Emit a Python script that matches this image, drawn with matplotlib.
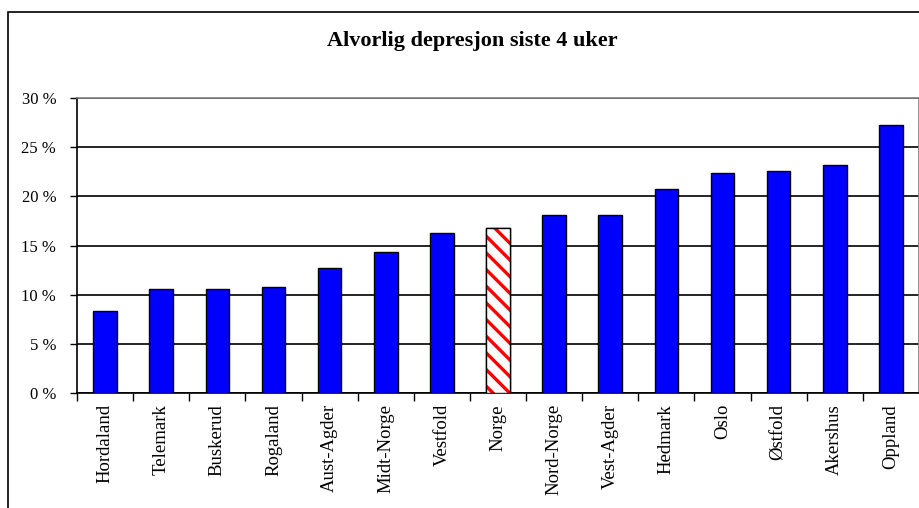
import matplotlib.pyplot as plt
from matplotlib.patches import Rectangle

# Share with severe depression last 4 weeks, by region (%)
regions = ['Hordaland', 'Telemark', 'Buskerud', 'Rogaland', 'Aust-Agder',
           'Midt-Norge', 'Vestfold', 'Norge', 'Nord-Norge', 'Vest-Agder',
           'Hedmark', 'Oslo', 'Østfold', 'Akershus', 'Oppland']
values = [8.3, 10.6, 10.6, 10.8, 12.7, 14.3, 16.3, 16.8, 18.1, 18.1,
          20.7, 22.4, 22.6, 23.2, 27.3]
national = 'Norge'
yticks = [0, 5, 10, 15, 20, 25, 30]

plt.rcParams['font.family'] = ['Liberation Serif', 'DejaVu Serif']
plt.rcParams['hatch.linewidth'] = 2.4

W, H = 920, 508
fig = plt.figure(figsize=(W / 100, H / 100), dpi=100)
ax = fig.add_axes([77 / W, 1 - 393 / H, (919 - 77) / W, (393 - 98) / H])

x = list(range(len(regions)))
colors = ['white' if r == national else '#0000ff' for r in regions]
bars = ax.bar(x, values, width=0.42, color=colors, edgecolor='black',
              linewidth=1.0, zorder=3)

# national average gets red diagonal stripes
for r, b in zip(regions, bars):
    if r == national:
        ax.bar(b.get_x() + b.get_width() / 2, b.get_height(), width=b.get_width(),
               color='white', edgecolor='red', hatch='\\\\', linewidth=0, zorder=3)
        ax.bar(b.get_x() + b.get_width() / 2, b.get_height(), width=b.get_width(),
               fill=False, edgecolor='black', linewidth=1.0, zorder=4)

ax.set_xlim(-0.5, len(regions) - 0.5)
ax.set_ylim(0, 30)
ax.set_yticks(yticks)
ax.set_yticklabels([f'{v} %' for v in yticks], fontsize=12)
ax.yaxis.grid(True, color='black', linewidth=1.2, zorder=0)
ax.set_axisbelow(True)

# category labels centred, ticks on category boundaries
ax.set_xticks(x)
ax.set_xticklabels(regions, rotation=90, fontsize=13.5)
ax.tick_params(axis='x', which='major', length=0, pad=8)
ax.set_xticks([i + 0.5 for i in x[:-1]] + [-0.5], minor=True)
ax.tick_params(axis='x', which='minor', length=6, width=1, direction='out')
ax.tick_params(axis='y', length=5, width=1, direction='out', pad=10)

for side in ['left', 'bottom']:
    ax.spines[side].set_color('black')
    ax.spines[side].set_linewidth(1.2)
for side in ['top', 'right']:
    ax.spines[side].set_color('#808080')
    ax.spines[side].set_linewidth(1.2)

fig.text(472 / W, 1 - 41 / H, 'Alvorlig depresjon siste 4 uker',
         ha='center', va='center', fontsize=16, fontweight='bold')

# outer chart frame
fig.patches.append(Rectangle((8 / W, -0.2), 2, 1.2 - 12 / H, transform=fig.transFigure,
                             fill=False, edgecolor='black', linewidth=1.2, clip_on=False))

plt.savefig('out.png', dpi=100)
